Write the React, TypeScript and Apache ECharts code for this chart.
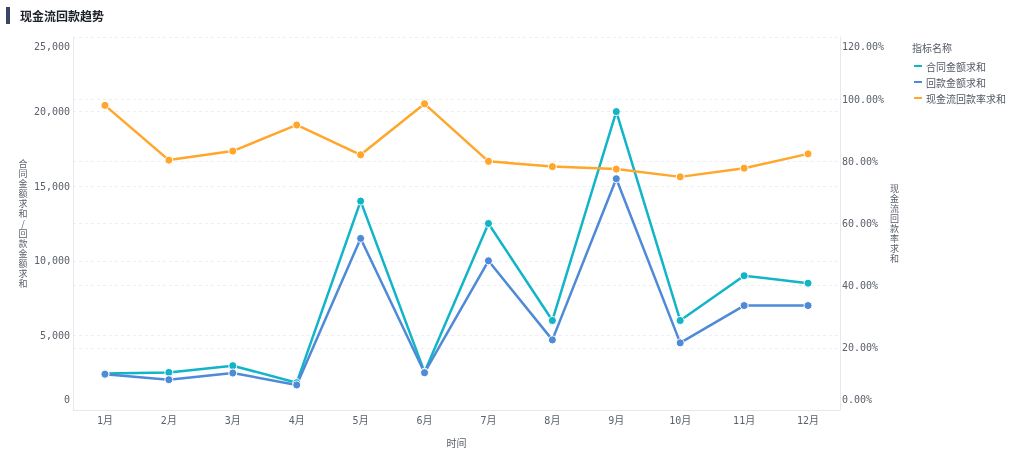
import React, { useEffect, useRef } from "react";
import * as echarts from "echarts";

const months = ["1月", "2月", "3月", "4月", "5月", "6月", "7月", "8月", "9月", "10月", "11月", "12月"];
const contractAmount = [2450, 2520, 2970, 1830, 14000, 2540, 12500, 6000, 20000, 6000, 9000, 8500];
const receivedAmount = [2400, 2030, 2480, 1680, 11500, 2500, 10000, 4700, 15500, 4500, 7000, 7000];
const receiveRate = [98.0, 80.4, 83.3, 91.7, 82.1, 98.5, 80.0, 78.3, 77.5, 75.0, 77.8, 82.4];

const seriesNames = ["合同金额求和", "回款金额求和", "现金流回款率求和"];
const colors = ["#12b5c7", "#4e8ad8", "#ffa62b"];

const MONO = "DejaVu Sans Mono, Noto Sans CJK SC, monospace";
const CJK = "Noto Sans CJK SC, sans-serif";

export default function App() {
  const ref = useRef<HTMLDivElement>(null);
  useEffect(() => {
    if (!ref.current) return;
    const chart = echarts.init(ref.current, undefined, { renderer: "svg" });
    const labelRich = {
      lo: { padding: [0, 0, 22, 0], fontFamily: MONO, fontSize: 10, color: "#5a606c" },
      hi: { padding: [18, 0, 0, 0], fontFamily: MONO, fontSize: 10, color: "#5a606c" },
    };
    const lineSeries = (i: number, data: number[], yAxisIndex: number) => ({
      name: seriesNames[i],
      type: "line",
      yAxisIndex,
      data,
      symbol: "circle",
      symbolSize: 8,
      showSymbol: true,
      lineStyle: { width: 2.5, color: colors[i] },
      itemStyle: { color: colors[i], borderColor: "#fff", borderWidth: 1 },
    });
    chart.setOption({
      animation: false,
      color: colors,
      grid: { left: 73, right: 184, top: 37, bottom: 47 },
      graphic: [
        { type: "rect", left: 6, top: 7, shape: { width: 4, height: 17 }, style: { fill: "#3b4567" } },
        {
          type: "text",
          left: 20,
          top: 9,
          style: { text: "现金流回款趋势", fontSize: 12, fontWeight: "bold", fill: "#1d2129", fontFamily: CJK },
        },
        {
          type: "text",
          left: 912,
          top: 42,
          style: { text: "指标名称", fontSize: 10, fill: "#545a66", fontFamily: CJK },
        },
      ],
      legend: {
        orient: "vertical",
        left: 909,
        top: 56,
        icon: "rect",
        itemWidth: 8,
        itemHeight: 2,
        itemGap: 6,
        data: seriesNames,
        itemStyle: { borderWidth: 0 },
        textStyle: { fontSize: 10, color: "#545a66", fontFamily: CJK, padding: [0, 0, 0, -1] },
      },
      xAxis: {
        type: "category",
        data: months,
        boundaryGap: true,
        name: "时间",
        nameLocation: "middle",
        nameGap: 27,
        nameTextStyle: { fontSize: 10, color: "#5a606c", fontFamily: CJK },
        axisLine: { lineStyle: { color: "#e6e8ec" } },
        axisTick: { show: false },
        axisLabel: { fontSize: 10, color: "#5a606c", fontFamily: MONO, margin: 5 },
      },
      yAxis: [
        {
          type: "value",
          min: 0,
          max: 25000,
          interval: 5000,
          position: "left",
          name: "合同金额求和/回款金额求和".split("").join("\n"),
          nameLocation: "middle",
          nameRotate: 0,
          nameGap: 50,
          nameTextStyle: { fontSize: 9, lineHeight: 10, color: "#5a606c", fontFamily: CJK, align: "center" },
          axisLine: { show: true, lineStyle: { color: "#e6e8ec" } },
          axisTick: { show: false },
          splitLine: { lineStyle: { color: "#eceef1", type: [3, 3] } },
          axisLabel: {
            fontSize: 10,
            color: "#5a606c",
            fontFamily: MONO,
            margin: 3,
            rich: labelRich,
            formatter: (v: number) => {
              const s = v.toLocaleString("en-US");
              if (v === 0) return "{lo|" + s + "}";
              if (v === 25000) return "{hi|" + s + "}";
              return s;
            },
          },
        },
        {
          type: "value",
          min: 0,
          max: 120,
          interval: 20,
          position: "right",
          name: "现金流回款率求和".split("").join("\n"),
          nameLocation: "middle",
          nameRotate: 0,
          nameGap: 53,
          nameTextStyle: { fontSize: 9, lineHeight: 10, color: "#5a606c", fontFamily: CJK, align: "center" },
          axisLine: { show: true, lineStyle: { color: "#e6e8ec" } },
          axisTick: { show: false },
          splitLine: { lineStyle: { color: "#eceef1", type: [3, 3] } },
          axisLabel: {
            fontSize: 10,
            color: "#5a606c",
            fontFamily: MONO,
            margin: 2,
            rich: labelRich,
            formatter: (v: number) => {
              const s = v.toFixed(2) + "%";
              if (v === 0) return "{lo|" + s + "}";
              if (v === 120) return "{hi|" + s + "}";
              return s;
            },
          },
        },
      ],
      series: [
        lineSeries(0, contractAmount, 0),
        lineSeries(1, receivedAmount, 0),
        lineSeries(2, receiveRate, 1),
      ],
    });
    return () => chart.dispose();
  }, []);
  return <div ref={ref} style={{ position: "fixed", left: 0, top: 0, width: 1024, height: 457 }} />;
}
